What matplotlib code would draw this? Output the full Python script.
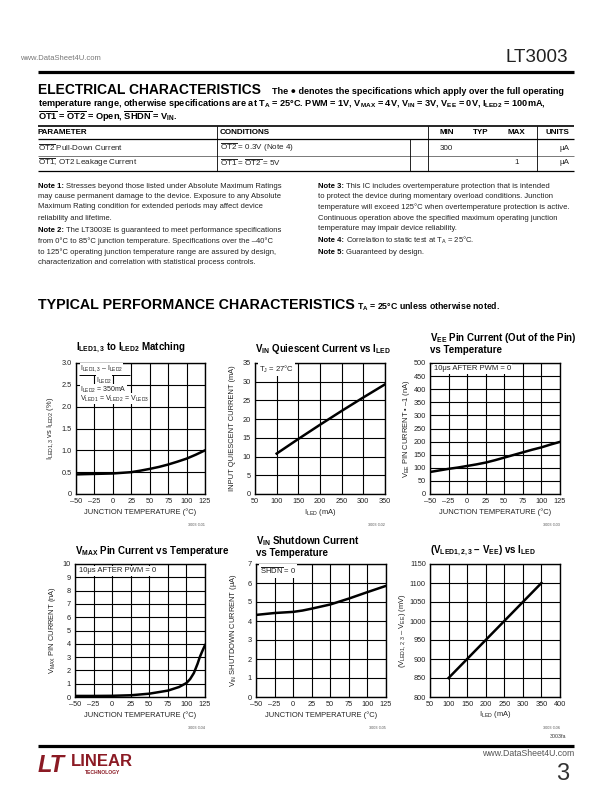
import matplotlib
matplotlib.use('Agg')
import matplotlib.pyplot as plt
from matplotlib import font_manager
from matplotlib.lines import Line2D

names = {f.name for f in font_manager.fontManager.ttflist}
COND = 'Liberation Sans Narrow' if 'Liberation Sans Narrow' in names else 'Liberation Sans'
plt.rcParams['font.family'] = [COND, 'DejaVu Sans']
plt.rcParams['mathtext.fontset'] = 'custom'
plt.rcParams['mathtext.rm'] = COND
plt.rcParams['mathtext.it'] = COND + ':italic'
plt.rcParams['mathtext.bf'] = COND + ':bold'

# ---------------- data ----------------
match_temp = [-47, -37.5, -25, -12.5, 0, 12.5, 25, 37.5, 50, 62.5, 75, 87.5, 100, 112.5, 125]
match_pct = [0.45, 0.455, 0.46, 0.465, 0.47, 0.485, 0.50, 0.535, 0.575, 0.62, 0.675, 0.74, 0.81, 0.90, 1.00]

iq_iled = [100, 150, 200, 250, 300, 350]
iq_ma = [10.8, 14.7, 18.5, 22.2, 25.8, 29.3]

vee_temp = [-50, -37.5, -25, -12.5, 0, 12.5, 25, 37.5, 50, 62.5, 75, 87.5, 100, 112.5, 125]
vee_na = [84, 90, 96, 101, 107, 113, 120, 129, 139, 149, 159, 169, 178, 189, 199]

vmax_temp = [-50, -25, 0, 25, 50, 75, 90, 100, 105, 110, 115, 118, 121, 125]
vmax_na = [0.08, 0.08, 0.09, 0.13, 0.25, 0.48, 0.75, 1.05, 1.35, 1.8, 2.5, 3.0, 3.4, 3.9]

shdn_temp = [-50, -25, 0, 12.5, 25, 50, 75, 100, 125]
shdn_ua = [4.32, 4.42, 4.48, 4.55, 4.65, 4.87, 5.18, 5.52, 5.85]

vled_iled = [100, 150, 200, 250, 300, 350]
vled_mv = [850, 900, 950, 1000, 1050, 1100]

temp_ticks = [-50, -25, 0, 25, 50, 75, 100, 125]
temp_labels = ['–50', '–25', '0', '25', '50', '75', '100', '125']

# ---------------- figure ----------------
W, H = 612, 792
fig = plt.figure(figsize=(6.12, 7.92), dpi=100)
fig.patch.set_facecolor('white')
renderer = fig.canvas.get_renderer()


def fx(x):
    return x / W


def fy(y):
    return 1 - y / H


def T(x, y, s, size=6.0, **kw):
    kw.setdefault('va', 'center')
    return fig.text(fx(x), fy(y), s, fontsize=size, **kw)


def fit(t, width):
    w = t.get_window_extent(renderer).width
    t.set_fontsize(t.get_fontsize() * width / w)
    return t


def hline(x0, x1, y, lw=1.0, color='k'):
    fig.add_artist(Line2D([fx(x0), fx(x1)], [fy(y), fy(y)], transform=fig.transFigure,
                          lw=lw, color=color, solid_capstyle='butt'))


def vline(x, y0, y1, lw=0.6, color='k'):
    fig.add_artist(Line2D([fx(x), fx(x)], [fy(y0), fy(y1)], transform=fig.transFigure,
                          lw=lw, color=color, solid_capstyle='butt'))


# ---------------- page header ----------------
T(20, 58, 'www.DataSheet4U.com', size=5.5, color='#777777')
fit(T(568, 57, 'LT3003', size=14, ha='right', color='#222222'), 63)
hline(38, 574, 72, lw=2.3)

fit(T(38, 90, 'ELECTRICAL CHARACTERISTICS', size=11, weight='bold'), 224)
fit(T(272, 92, 'The ● denotes the specifications which apply over the full operating',
      size=7, weight='bold'), 291)
fit(T(38, 103, r'temperature range, otherwise specifications are at $\mathregular{T_A}$ = 25°C. PWM = 1V, '
      r'$\mathregular{V_{MAX}}$ = 4V, $\mathregular{V_{IN}}$ = 3V, $\mathregular{V_{EE}}$ = 0V, '
      r'$\mathregular{I_{LED2}}$ = 100mA,', size=7, weight='bold'), 510)
T(38, 116.5, r'$\overline{\mathregular{OT1}}$ = $\overline{\mathregular{OT2}}$ = Open, '
  r'$\overline{\mathregular{SHDN}}$ = $\mathregular{V_{IN}}$.', size=6.7, weight='bold')

# ---------------- table ----------------
hline(38, 574, 126, lw=1.2)
hline(38, 574, 139, lw=0.9)
hline(38, 574, 156, lw=0.5, color='#444444')
hline(38, 574, 171, lw=0.9)
for xv in (217, 428, 537):
    vline(xv, 126, 171)
vline(410, 139, 171)

hs = 5.8
T(38, 133, 'PARAMETER', size=hs, weight='bold')
T(220, 133, 'CONDITIONS', size=hs, weight='bold')
T(440, 133, 'MIN', size=hs, weight='bold')
T(473, 133, 'TYP', size=hs, weight='bold')
T(507, 133, 'MAX', size=hs, weight='bold')
T(569, 133, 'UNITS', size=hs, weight='bold', ha='right')

rs = 5.8
T(38, 148, r'$\overline{\mathregular{OT2}}$ Pull-Down Current', size=rs, color='#222222')
T(220, 148, r'$\overline{\mathregular{OT2}}$ = 0.3V (Note 4)', size=rs, color='#222222')
T(440, 148, '300', size=rs, color='#222222')
T(569, 148, 'μA', size=rs, ha='right', color='#222222')
T(38, 163, r'$\overline{\mathregular{OT1}}$, OT2 Leakage Current', size=rs, color='#222222')
T(220, 163, r'$\overline{\mathregular{OT1}}$ = $\overline{\mathregular{OT2}}$ = 5V', size=rs, color='#222222')
T(519, 163, '1', size=rs, ha='right', color='#222222')
T(569, 163, 'μA', size=rs, ha='right', color='#222222')

# ---------------- notes ----------------
ns = 5.5


def note(x, y, prefix, rest):
    t = T(x, y, prefix, size=ns, weight='bold')
    w = t.get_window_extent(renderer).width
    T(x + w + 1.5, y, rest, size=ns, color='#222222')


def plain(x, y, s):
    T(x, y, s, size=ns, color='#222222')


note(38, 186, 'Note 1:', 'Stresses beyond those listed under Absolute Maximum Ratings')
plain(38, 197, 'may cause permanent damage to the device. Exposure to any Absolute')
plain(38, 207, 'Maximum Rating condition for extended periods may affect device')
plain(38, 218, 'reliability and lifetime.')
note(38, 230, 'Note 2:', 'The LT3003E is guaranteed to meet performance specifications')
plain(38, 241, 'from 0°C to 85°C junction temperature. Specifications over the –40°C')
plain(38, 252, 'to 125°C operating junction temperature range are assured by design,')
plain(38, 263, 'characterization and correlation with statistical process controls.')

note(318, 186, 'Note 3:', 'This IC includes overtemperature protection that is intended')
plain(318, 197, 'to protect the device during momentary overload conditions. Junction')
plain(318, 207, 'temperature will exceed 125°C when overtemperature protection is active.')
plain(318, 218, 'Continuous operation above the specified maximum operating junction')
plain(318, 229, 'temperature may impair device reliability.')
note(318, 240, 'Note 4:', r'Correlation to static test at $\mathregular{T_A}$ = 25°C.')
note(318, 252, 'Note 5:', 'Guaranteed by design.')

# ---------------- section 2 heading ----------------
fit(T(38, 305, 'TYPICAL PERFORMANCE CHARACTERISTICS', size=11, weight='bold'), 314)
fit(T(357, 307, r'$\mathregular{T_A}$ = 25°C unless otherwise noted.', size=7, weight='bold'), 143)

# ---------------- charts ----------------
TS = 5.3   # tick label size
LS = 5.4   # axis label size


def make_ax(box, xlim, xticks, xlabels, ylim, yticks, ylabels):
    l, t, r, b = box
    ax = fig.add_axes([fx(l), fy(b), (r - l) / W, (b - t) / H])
    ax.set_xlim(*xlim)
    ax.set_ylim(*ylim)
    ax.set_xticks(xticks)
    ax.set_xticklabels(xlabels)
    ax.set_yticks(yticks)
    ax.set_yticklabels(ylabels)
    ax.grid(True, color='k', lw=0.8)
    ax.set_axisbelow(True)
    ax.tick_params(length=0, labelsize=TS, pad=3, colors='#222222')
    for s in ax.spines.values():
        s.set_linewidth(1.0)
    return ax


def labels(box, title_lines, xlabel, ylabel, ylab_x, code, title_y):
    l, t, r, b = box
    for i, tl in enumerate(title_lines):
        T(l, title_y + i * 12, tl, size=7, weight='bold')
    T((l + r) / 2, b + 18, xlabel, size=LS, ha='center', color='#222222')
    T(ylab_x, (t + b) / 2, ylabel, size=LS, ha='center', rotation=90, color='#222222')
    T(r, b + 31, code, size=2.8, ha='right', color='#555555')


def box_text(x, y, s, size=5.5, pad=0.8, **kw):
    T(x, y, s, size=size, color='#222222',
      bbox=dict(facecolor='white', edgecolor='none', pad=pad), **kw)


temp_lim = (-50, 125)

# Chart 1
b1 = (76, 363, 205, 494)
ax1 = make_ax(b1, temp_lim, temp_ticks, temp_labels, (0, 3.0),
              [0, 0.5, 1.0, 1.5, 2.0, 2.5, 3.0], ['0', '0.5', '1.0', '1.5', '2.0', '2.5', '3.0'])
ax1.plot(match_temp, match_pct, color='k', lw=1.8)
labels(b1, [r'$\mathregular{I_{LED1,3}}$ to $\mathregular{I_{LED2}}$ Matching'],
       'JUNCTION TEMPERATURE (°C)', r'$\mathregular{I_{LED1,3}}$ vs $\mathregular{I_{LED2}}$ (%)', 50,
       '3003 G01', 348)
box_text(80, 369, r'$\mathregular{I_{LED1,3}}$ – $\mathregular{I_{LED2}}$', size=5.0, pad=0.2)
hline(79, 130, 375, lw=0.7)
box_text(104, 380.5, r'$\mathregular{I_{LED2}}$', size=5.0, pad=0.2, ha='center')
box_text(80, 389.5, r'$\mathregular{I_{LED2}}$ = 350mA', size=5.0, pad=0.2)
box_text(80, 398.5, r'$\mathregular{V_{LED1}}$ = $\mathregular{V_{LED2}}$ = $\mathregular{V_{LED3}}$', size=5.0, pad=0.2)

# Chart 2
b2 = (255, 363, 385, 494)
ax2 = make_ax(b2, (50, 350), [50, 100, 150, 200, 250, 300, 350],
              ['50', '100', '150', '200', '250', '300', '350'], (0, 35),
              [0, 5, 10, 15, 20, 25, 30, 35], ['0', '5', '10', '15', '20', '25', '30', '35'])
ax2.plot(iq_iled, iq_ma, color='k', lw=1.8)
labels(b2, [r'$\mathregular{V_{IN}}$ Quiescent Current vs $\mathregular{I_{LED}}$'],
       r'$\mathregular{I_{LED}}$ (mA)', 'INPUT QUIESCENT CURRENT (mA)', 232, '3003 G02', 349)
box_text(259, 369, r'$\mathregular{T_J}$ = 27°C')

# Chart 3
b3 = (430, 363, 560, 494)
ax3 = make_ax(b3, temp_lim, temp_ticks, temp_labels, (0, 500),
              list(range(0, 501, 50)), [str(v) for v in range(0, 501, 50)])
ax3.plot(vee_temp, vee_na, color='k', lw=1.8)
labels(b3, [r'$\mathregular{V_{EE}}$ Pin Current (Out of the Pin)', 'vs Temperature'],
       'JUNCTION TEMPERATURE (°C)', r'$\mathregular{V_{EE}}$ PIN CURRENT • –1 (nA)', 407,
       '3003 G03', 338)
box_text(434, 369, '10μs AFTER PWM = 0')

# Chart 4
b4 = (75, 564, 205, 697)
ax4 = make_ax(b4, temp_lim, temp_ticks, temp_labels, (0, 10),
              list(range(0, 11)), [str(v) for v in range(0, 11)])
ax4.plot(vmax_temp, vmax_na, color='k', lw=1.8)
labels(b4, [r'$\mathregular{V_{MAX}}$ Pin Current vs Temperature'],
       'JUNCTION TEMPERATURE (°C)', r'$\mathregular{V_{MAX}}$ PIN CURRENT (nA)', 52, '3003 G04', 551)
box_text(79, 571, '10μs AFTER PWM = 0')

# Chart 5
b5 = (256, 564, 386, 697)
ax5 = make_ax(b5, temp_lim, temp_ticks, temp_labels, (0, 7),
              list(range(0, 8)), [str(v) for v in range(0, 8)])
ax5.plot(shdn_temp, shdn_ua, color='k', lw=1.8)
labels(b5, [r'$\mathregular{V_{IN}}$ Shutdown Current', 'vs Temperature'],
       'JUNCTION TEMPERATURE (°C)', r'$\mathregular{V_{IN}}$ SHUTDOWN CURRENT (μA)', 234,
       '3003 G05', 541)
box_text(260, 571, r'$\overline{\mathregular{SHDN}}$ = 0')

# Chart 6
b6 = (430, 564, 560, 697)
ax6 = make_ax(b6, (50, 400), [50, 100, 150, 200, 250, 300, 350, 400],
              ['50', '100', '150', '200', '250', '300', '350', '400'], (800, 1150),
              list(range(800, 1151, 50)), [str(v) for v in range(800, 1151, 50)])
ax6.plot(vled_iled, vled_mv, color='k', lw=1.8)
labels(b6, [r'($\mathregular{V_{LED1,2,3}}$ – $\mathregular{V_{EE}}$) vs $\mathregular{I_{LED}}$'],
       r'$\mathregular{I_{LED}}$ (mA)', r'($\mathregular{V_{LED1,2,3}}$ – $\mathregular{V_{EE}}$) (mV)', 403,
       '3003 G06', 551)

# ---------------- footer ----------------
T(566, 737, '3003fa', size=3.8, ha='right', color='#333333')
hline(38, 574, 746, lw=2.3)
LOGO = '#8B1A24'
T(38, 765, 'LT', size=17, weight='bold', style='italic', color=LOGO)
T(71, 761, 'LINEAR', size=12, weight='bold', color=LOGO)
T(85, 773, 'TECHNOLOGY', size=3.6, weight='bold', color=LOGO)
T(574, 754, 'www.DataSheet4U.com', size=6.3, ha='right', color='#555555')
T(569, 774, '3', size=17, ha='right', color='#333333')

fig.savefig('out.png', dpi=100, facecolor='white')
